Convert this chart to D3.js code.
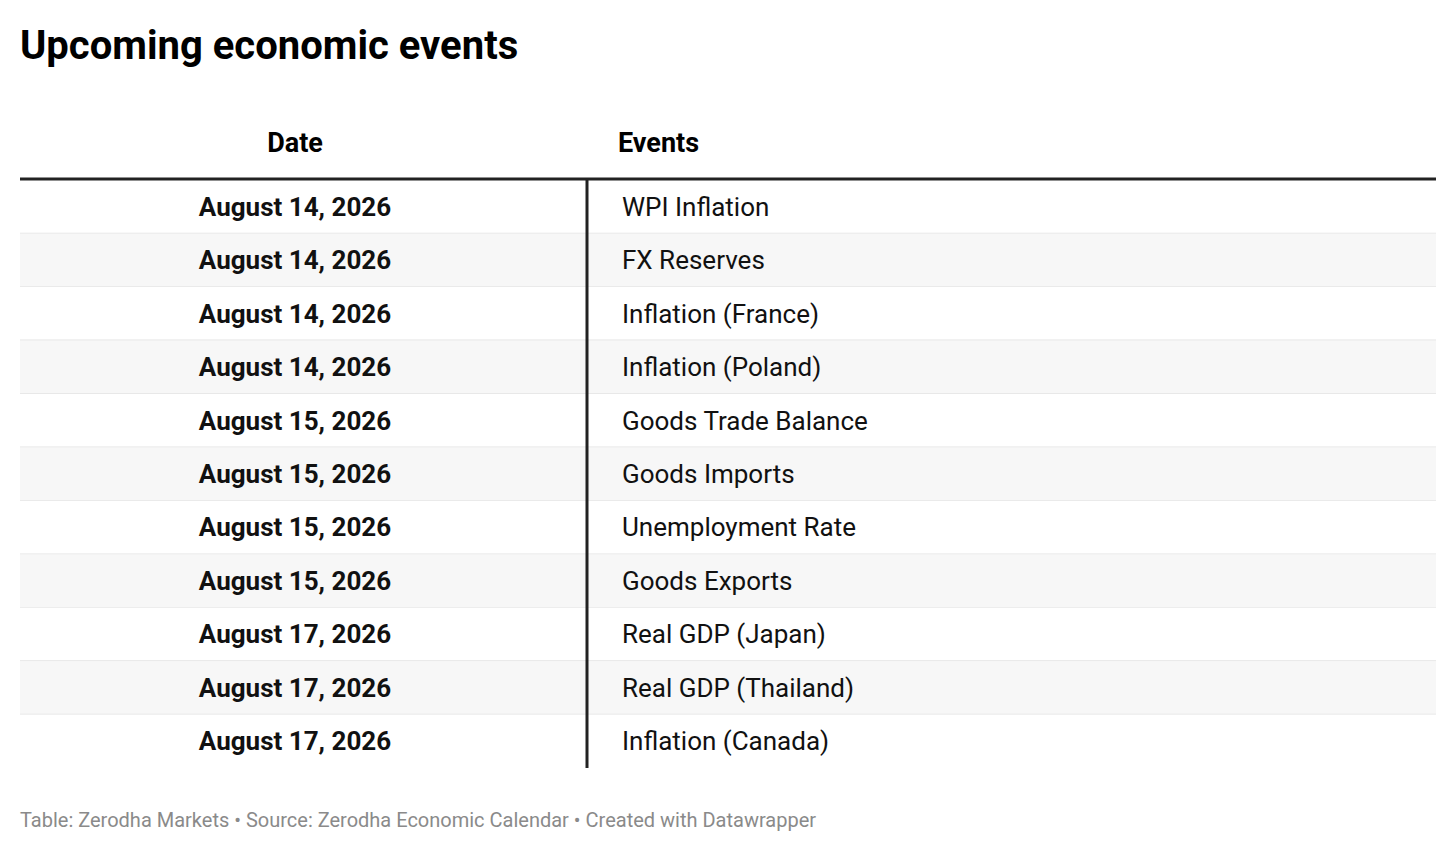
<!DOCTYPE html>
<html><head><meta charset="utf-8">
<script src="https://cdn.jsdelivr.net/npm/d3@7"></script>
<style>body{margin:0;background:#fff;font-family:Roboto,sans-serif}</style>
</head><body><svg id="c" width="1456" height="853"></svg>
<script>
const dates=["August 14, 2026","August 14, 2026","August 14, 2026","August 14, 2026","August 15, 2026","August 15, 2026","August 15, 2026","August 15, 2026","August 17, 2026","August 17, 2026","August 17, 2026"];
const events=["WPI Inflation","FX Reserves","Inflation (France)","Inflation (Poland)","Goods Trade Balance","Goods Imports","Unemployment Rate","Goods Exports","Real GDP (Japan)","Real GDP (Thailand)","Inflation (Canada)"];
const headers=["Date","Events"];
const svg=d3.select("#c");
svg.append("text").attr("x",20).attr("y",59).attr("font-size",40).attr("font-weight",700).attr("fill","#000").text("Upcoming economic events");
const y=d3.scaleBand().domain(d3.range(dates.length)).range([180,768]);
const x0=20,x1=1436,xd=587;
svg.append("text").attr("x",295).attr("y",152).attr("text-anchor","middle").attr("font-size",27).attr("font-weight",700).text(headers[0]);
svg.append("text").attr("x",618).attr("y",152).attr("font-size",27).attr("font-weight",700).text(headers[1]);
const g=svg.selectAll("g.r").data(dates).join("g");
g.append("rect").attr("x",x0).attr("width",x1-x0).attr("y",(d,i)=>y(i)).attr("height",y.bandwidth()).attr("fill",(d,i)=>i%2?"#f7f7f7":"#fff");
g.filter((d,i)=>i<dates.length-1).append("line").attr("x1",x0).attr("x2",x1).attr("y1",(d,i)=>y(i)+y.bandwidth()).attr("y2",(d,i)=>y(i)+y.bandwidth()).attr("stroke","#e3e3e3").attr("stroke-width",1.5);
g.append("text").attr("x",295).attr("y",(d,i)=>y(i)+y.bandwidth()/2+9).attr("text-anchor","middle").attr("font-size",26).attr("font-weight",700).attr("fill","#111").text(d=>d);
g.append("text").attr("x",622).attr("y",(d,i)=>y(i)+y.bandwidth()/2+9).attr("font-size",26).attr("fill","#111").text((d,i)=>events[i]);
svg.append("line").attr("x1",x0).attr("x2",x1).attr("y1",179).attr("y2",179).attr("stroke","#222").attr("stroke-width",3);
svg.append("line").attr("x1",xd).attr("x2",xd).attr("y1",180).attr("y2",768).attr("stroke","#222").attr("stroke-width",3);
svg.append("text").attr("x",20).attr("y",827).attr("font-size",20).attr("fill","#8a8a8a").text("Table: Zerodha Markets • Source: Zerodha Economic Calendar • Created with Datawrapper");
</script></body></html>
